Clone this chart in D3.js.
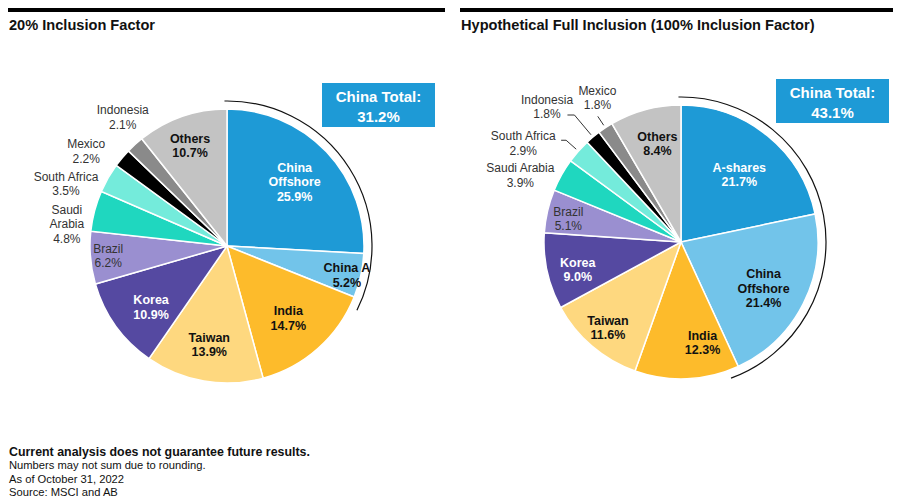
<!DOCTYPE html>
<html>
<head>
<meta charset="utf-8">
<script src="https://cdn.jsdelivr.net/npm/d3@7"></script>
<style>
  body { margin: 0; background: #fff; }
  svg { font-family: "Liberation Sans", Arial, sans-serif; }
</style>
</head>
<body>
<div id="chart"></div>
<script>
// data, 20% inclusion factor
var leftNames = ["China\nOffshore", "China A", "India", "Taiwan", "Korea", "Brazil",
  "Saudi\nArabia", "South Africa", "Mexico", "Indonesia", "Others"];
var leftValues = [25.9, 5.2, 14.7, 13.9, 10.9, 6.2, 4.8, 3.5, 2.2, 2.1, 10.7];
var leftChinaTotal = "31.2%";

// data, hypothetical full inclusion
var rightNames = ["A-shares", "China\nOffshore", "India", "Taiwan", "Korea", "Brazil",
  "Saudi Arabia", "South Africa", "Indonesia", "Mexico", "Others"];
var rightValues = [21.7, 21.4, 12.3, 11.6, 9.0, 5.1, 3.9, 2.9, 1.8, 1.8, 8.4];
var rightChinaTotal = "43.1%";

var titles = ["20% Inclusion Factor", "Hypothetical Full Inclusion (100% Inclusion Factor)"];
var notes = ["Current analysis does not guarantee future results.",
  "Numbers may not sum due to rounding.",
  "As of October 31, 2022",
  "Source: MSCI and AB"];

// styling
var palette = ["#1e9ad6", "#72c4ea", "#fdbb2b", "#fed87f", "#5549a1", "#9a8fd0",
  "#1fd7bf", "#74ebdb", "#000000", "#8a8a8a", "#c3c3c3"];
// w = white bold, k = black bold, o = regular grey
var labelKind = ["w", "k", "k", "k", "w", "o", "o", "o", "o", "o", "k"];

var ctx = { width: 904, height: 502, r: 137 };

var svg = d3.select("#chart").append("svg")
  .attr("width", ctx.width)
  .attr("height", ctx.height);

// label placement: [radius factor, angle nudge in degrees]
var leftPlace = [[0.68, 0], [0.9, 1], [0.69, 1.3], [0.73, 0.5], [0.71, -3], [0.87, 0.4],
  [1.18, -7], [1.26, -8.6], [1.24, -6], [1.21, 3.3], [0.78, -1]];
var rightPlace = [[0.65, 1.8], [0.69, 2.4], [0.75, -9.6], [0.82, 0], [0.78, -2.6], [0.84, -1.3],
  [1.27, -6.7], [1.36, -9.4], [1.39, -4.7], [1.22, 3.5], [0.74, 1.7]];
// leader lines on the right pie: index -> [elbow radius factor, tail length]
var rightLeaders = { 7: [1.12, 5], 8: [1.21, 7], 9: [1.1, 0] };

function pt(cx, cy, a, rr) {
  return [cx + rr * Math.sin(a), cy - rr * Math.cos(a)];
}

function drawPie(opt) {
  var g = svg.append("g");
  var cx = opt.cx, cy = opt.cy, r = ctx.r;

  // header bar + title
  g.append("rect")
    .attr("x", opt.x0).attr("y", 8)
    .attr("width", opt.x1 - opt.x0).attr("height", 4)
    .attr("fill", "#000");
  g.append("text")
    .attr("x", opt.x0 + 1).attr("y", 30)
    .style("font-size", "14.6px")
    .style("font-weight", "bold")
    .attr("fill", "#111")
    .text(opt.title);

  var pie = d3.pie().sort(null).value((d) => d);
  var arcs = pie(opt.values);
  var arc = d3.arc().innerRadius(0).outerRadius(r);

  g.append("g")
    .attr("transform", "translate(" + cx + "," + cy + ")")
    .selectAll("path")
    .data(arcs)
    .join("path")
    .attr("d", arc)
    .attr("fill", (d, i) => palette[i])
    .attr("stroke", "#fff")
    .attr("stroke-width", 1.5);

  // outline arc round the China slices
  var chinaEnd = arcs[1].endAngle;
  var outline = d3.arc()
    .innerRadius(145).outerRadius(145)
    .startAngle(-1 * Math.PI / 180)
    .endAngle(chinaEnd + 4.5 * Math.PI / 180);
  g.append("path")
    .attr("transform", "translate(" + cx + "," + cy + ")")
    .attr("d", outline())
    .attr("fill", "none")
    .attr("stroke", "#111")
    .attr("stroke-width", 1.2);

  // leader lines
  Object.keys(opt.leaders || {}).forEach(function (k) {
    var a = (arcs[k].startAngle + arcs[k].endAngle) / 2;
    var L = opt.leaders[k];
    var p0 = pt(cx, cy, a, r + 3);
    var p1 = pt(cx, cy, a, r * L[0]);
    var p2 = [p1[0] - L[1], p1[1]];
    g.append("polyline")
      .attr("points", [p0, p1, p2].map((p) => p.join(",")).join(" "))
      .attr("fill", "none")
      .attr("stroke", "#333")
      .attr("stroke-width", 1);
  });

  // labels
  arcs.forEach(function (d, i) {
    var a = (d.startAngle + d.endAngle) / 2 + opt.place[i][1] * Math.PI / 180;
    var p = pt(cx, cy, a, r * opt.place[i][0]);
    var lines = opt.names[i].split("\n").concat([d3.format(".1f")(d.value) + "%"]);
    var kind = labelKind[i];
    var t = g.append("text")
      .attr("text-anchor", "middle")
      .style("font-size", kind == "o" ? "12px" : "12.5px")
      .style("font-weight", kind == "o" ? "normal" : "bold")
      .attr("fill", kind == "w" ? "#fff" : kind == "k" ? "#111" : "#333");
    lines.forEach(function (s, j) {
      t.append("tspan")
        .attr("x", p[0])
        .attr("y", p[1] + (j - (lines.length - 1) / 2) * 14.5 + 4.5)
        .text(s);
    });
  });

  // China total box
  g.append("rect")
    .attr("x", cx + 95).attr("y", cy - 163)
    .attr("width", 113).attr("height", 44)
    .attr("fill", "#1e9ad6");
  g.append("text")
    .attr("x", cx + 151.5).attr("y", cy - 144)
    .attr("text-anchor", "middle")
    .style("font-size", "15px").style("font-weight", "bold")
    .attr("fill", "#fff")
    .text("China Total:");
  g.append("text")
    .attr("x", cx + 151.5).attr("y", cy - 124)
    .attr("text-anchor", "middle")
    .style("font-size", "15px").style("font-weight", "bold")
    .attr("fill", "#fff")
    .text(opt.total);
}

drawPie({ cx: 227, cy: 246, x0: 8, x1: 445, title: titles[0],
  names: leftNames, values: leftValues, total: leftChinaTotal, place: leftPlace });
drawPie({ cx: 681, cy: 242, x0: 460, x1: 893, title: titles[1],
  names: rightNames, values: rightValues, total: rightChinaTotal, place: rightPlace,
  leaders: rightLeaders });

// footnotes
svg.append("g")
  .selectAll("text")
  .data(notes)
  .join("text")
  .attr("x", 9)
  .attr("y", (d, i) => (i == 0 ? 456 : 456 + i * 13.3))
  .style("font-size", (d, i) => (i == 0 ? "12.4px" : "11.2px"))
  .style("font-weight", (d, i) => (i == 0 ? "bold" : "normal"))
  .attr("fill", "#111")
  .text((d) => d);
</script>
</body>
</html>
